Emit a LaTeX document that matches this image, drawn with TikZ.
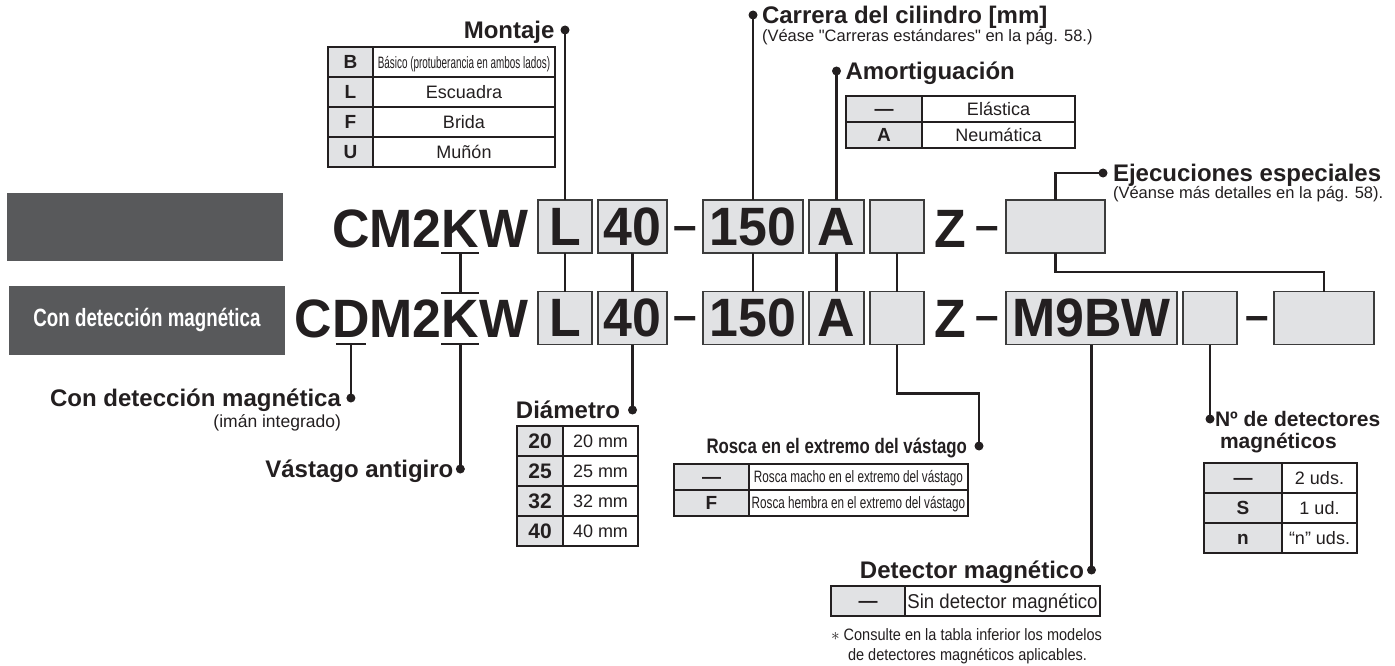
\documentclass[tikz,border=0pt]{standalone}
\usepackage{fontspec}
\setmainfont{Liberation Sans}
\newfontfamily\subfont[Ligatures=TeXOff]{Liberation Sans}
\newfontfamily\codefont[FakeStretch=0.96]{Liberation Sans}
\newfontfamily\narrowfont[FakeStretch=0.6]{Liberation Sans}
\newfontfamily\threadfont[FakeStretch=0.71]{Liberation Sans}
\newfontfamily\condfont[FakeStretch=0.8]{Liberation Sans}
\newfontfamily\panelfont[FakeStretch=0.75]{Liberation Sans}
\newfontfamily\notefont[FakeStretch=0.88]{Liberation Sans}
\newfontfamily\detfont[FakeStretch=0.93]{Liberation Sans}
\usetikzlibrary{positioning}
\definecolor{ink}{HTML}{231F20}
\definecolor{boxgray}{HTML}{E1E2E4}
\definecolor{boxline}{HTML}{3C3C3C}
\definecolor{darkpanel}{HTML}{58595B}
\begin{document}
\begin{tikzpicture}[
x=1pt, y=-1pt,
every node/.style={inner sep=0, outer sep=0, text=ink},
code/.style={font=\codefont\bfseries\fontsize{54}{60}\selectfont},
codebox/.style={code, draw=boxline, fill=boxgray, line width=1.8pt, minimum height=53},
codedash/.style={font=\codefont\bfseries\fontsize{44}{50}\selectfont, anchor=base},
panel/.style={fill=darkpanel, minimum width=276, minimum height=68},
title/.style={font=\bfseries\fontsize{24}{28}\selectfont, text height=17, text depth=0},
sub/.style={font=\subfont\fontsize{16.5}{19}\selectfont, text height=12, text depth=0},
dot/.style={circle, fill=ink, minimum size=9},
conn/.style={draw=ink, line width=2.6pt},
keycell/.style={draw=ink, fill=boxgray, line width=1.8pt, font=\bfseries\fontsize{19}{22}\selectfont, text height=13.6, text depth=0},
valcell/.style={draw=ink, fill=white, line width=1.8pt, font=\fontsize{18}{21}\selectfont, text height=12.9, text depth=0}
]
\useasboundingbox (0,0) rectangle (1395,666);

% first row
\node[panel] (plainpanel) at (145,227) {};
\node[code, anchor=base east] (w1) at (528,247) {W};
\node[code, anchor=base east] (k1) at (w1.base west) {K};
\node[code, anchor=base east] (cm1) at (k1.base west) {CM2};
\node[codebox, minimum width=54] (L1) at (565,226.5) {L};
\node[codebox, minimum width=69] (B1) at (632.5,226.5) {40};
\node[codedash] (h1) at (685.5,240) {–};
\node[codebox, minimum width=100] (S1) at (753,226.5) {150};
\node[codebox, minimum width=55] (A1) at (836.5,226.5) {A};
\node[codebox, minimum width=54] (E1) at (897,226.5) {};
\node[code, anchor=base] (z1) at (950,247) {Z};
\node[codedash] (h2) at (987,240) {–};
\node[codebox, minimum width=99] (X1) at (1055.5,226.5) {};

% second row
\node[panel, minimum height=69, text=white, font=\panelfont\bfseries\fontsize{25}{28}\selectfont] (magpanel) at (147,320) {Con detección magnética};
\node[code, anchor=base east] (w2) at (528,337) {W};
\node[code, anchor=base east] (k2) at (w2.base west) {K};
\node[code, anchor=base east] (m2) at (k2.base west) {M2};
\node[code, anchor=base east] (d2) at (m2.base west) {D};
\node[code, anchor=base east] (c2) at (d2.base west) {C};
\node[codebox, minimum width=54] (L2) at (565,318) {L};
\node[codebox, minimum width=69] (B2) at (632.5,318) {40};
\node[codedash] (h3) at (685.5,330) {–};
\node[codebox, minimum width=100] (S2) at (753,318) {150};
\node[codebox, minimum width=55] (A2) at (836.5,318) {A};
\node[codebox, minimum width=54] (E2) at (897,318) {};
\node[code, anchor=base] (z2) at (950,337) {Z};
\node[codedash] (h4) at (987,330) {–};
\node[codebox, minimum width=171] (sw2) at (1091.5,318) {M9BW};
\node[codebox, minimum width=54] (N2) at (1210,318) {};
\node[codedash] (h5) at (1257,330) {–};
\node[codebox, minimum width=100] (X2) at (1324,318) {};

\coordinate (k1u) at ([yshift=-6]k1.base);
\coordinate (k2o) at ([yshift=7]k2.north);
\coordinate (k2u) at ([yshift=-7]k2.base);
\coordinate (d2u) at ([yshift=-7]d2.base);

% labels above
\node[dot] (montdot) at (565,30) {};
\node[title, left=6 of montdot] (montitle) {Montaje};
\node[dot] (carrdot) at (753,15) {};
\node[title, right=4.5 of carrdot] (carrtitle) {Carrera del cilindro [mm]};
\node[sub, below=6pt of carrtitle.south west, anchor=north west] (carrsub) {(Véase "Carreras estándares" en la pág. 58.)};
\node[dot] (amodot) at (836.5,71) {};
\node[title, right=4.5 of amodot] (amotitle) {Amortiguación};
\node[dot] (ejdot) at (1103,173) {};
\node[title, right=5.5 of ejdot] (ejtitle) {Ejecuciones especiales};
\node[sub, below=5pt of ejtitle.south west, anchor=north west] (ejsub) {(Véanse más detalles en la pág. 58).};

% labels below
\node[dot] (condot) at (d2u |- 0,398) {};
\node[title, left=5.5 of condot] (contitle) {Con detección magnética};
\node[sub, font=\subfont\fontsize{17.5}{20}\selectfont, below=9pt of contitle.south east, anchor=north east] (consub) {(imán integrado)};
\node[dot] (vasdot) at (k2u |- 0,469) {};
\node[title, left=2.5 of vasdot] (vastitle) {Vástago antigiro};
\node[dot] (diadot) at (632.5,410) {};
\node[title, left=8 of diadot] (diatitle) {Diámetro};
\node[dot] (rosdot) at (979,446) {};
\node[title, font=\condfont\bfseries\fontsize{21}{24}\selectfont, text height=15, left=7.5 of rosdot] (rostitle) {Rosca en el extremo del vástago};
\node[dot] (detdot) at (1091.5,570) {};
\node[title, left=3 of detdot] (dettitle) {Detector magnético};
\node[dot] (numdot) at (1210,419) {};
\node[title, font=\bfseries\fontsize{21}{24}\selectfont, text height=15, right=0.5 of numdot] (numtitle) {Nº de detectores};
\node[title, font=\bfseries\fontsize{21}{24}\selectfont, text height=15, below=7pt of numtitle.south west, anchor=north west, xshift=5] (numtitle2) {magnéticos};
\node[anchor=west, font=\notefont\fontsize{16.5}{19}\selectfont] (note1) at (831,635) {$\ast$ Consulte en la tabla inferior los modelos};
\node[anchor=west, font=\notefont\fontsize{16.5}{19}\selectfont] (note2) at (848,656) {de detectores magnéticos aplicables.};

% tables
\foreach \k/\v [count=\i] in {B/{\narrowfont\fontsize{16.5}{19}\selectfont Básico (protuberancia en ambos lados)}, L/Escuadra, F/Brida, U/Muñón}
{
  \node[keycell, minimum width=45, minimum height=30] (mk\i) at (350.5,32+30*\i) {\k};
  \node[valcell, minimum width=182, minimum height=30] (mv\i) at (464,32+30*\i) {\v};
}
\foreach \k/\v [count=\i] in {—/Elástica, A/Neumática}
{
  \node[keycell, minimum width=76, minimum height=26] (ak\i) at (884,83+26*\i) {\k};
  \node[valcell, minimum width=153, minimum height=26] (av\i) at (998.5,83+26*\i) {\v};
}
\foreach \k [count=\i] in {20,25,32,40}
{
  \node[keycell, font=\bfseries\fontsize{21}{24}\selectfont, text height=15, minimum width=46, minimum height=30] (dk\i) at (540,411+30*\i) {\k};
  \node[valcell, minimum width=75, minimum height=30] (dv\i) at (600.5,411+30*\i) {\k\ mm};
}
\foreach \k/\v [count=\i] in {—/{Rosca macho en el extremo del vástago}, F/{Rosca hembra en el extremo del vástago}}
{
  \node[keycell, minimum width=75, minimum height=26] (rk\i) at (711.5,451+26*\i) {\k};
  \node[valcell, font=\threadfont\fontsize{16.5}{19}\selectfont, text height=11.8, minimum width=219, minimum height=26] (rv\i) at (858.5,451+26*\i) {\v};
}
\node[keycell, minimum width=74, minimum height=30] (sk1) at (868,601) {—};
\node[valcell, font=\detfont\fontsize{20}{23}\selectfont, text height=14.3, minimum width=195, minimum height=30] (sv1) at (1002.5,601) {Sin detector magnético};
\foreach \k/\v [count=\i] in {—/2 uds., S/1 ud., n/“n” uds.}
{
  \node[keycell, minimum width=78, minimum height=30] (nk\i) at (1243,448+30*\i) {\k};
  \node[valcell, minimum width=75, minimum height=30] (nv\i) at (1319.5,448+30*\i) {\v};
}

% connectors
\draw[conn] (montdot) -- (L1);
\draw[conn] (L1) -- (L2);
\draw[conn] (B1) -- (B2);
\draw[conn] (B2) -- (diadot);
\draw[conn] (carrdot) -- (S1);
\draw[conn] (S1) -- (S2);
\draw[conn] (amodot) -- (A1);
\draw[conn] (A1) -- (A2);
\draw[conn] (E1) -- (E2);
\draw[conn] (E2.south) -- ++(0,49) -| (rosdot);
\draw[conn] (X1.north) |- (ejdot);
\draw[conn] (X1.south) -- ++(0,19) -| (X2.north);
\draw[conn] (sw2) -- (detdot);
\draw[conn] (N2) -- (numdot);
\draw[conn] ([xshift=-19]k1u) -- ([xshift=19]k1u);
\draw[conn] ([xshift=-19]k2o) -- ([xshift=19]k2o);
\draw[conn] ([xshift=-19]k2u) -- ([xshift=19]k2u);
\draw[conn] ([xshift=-15]d2u) -- ([xshift=15]d2u);
\draw[conn] (k1u) -- (k2o);
\draw[conn] (k2u) -- (vasdot);
\draw[conn] (d2u) -- (condot);
\end{tikzpicture}
\end{document}
